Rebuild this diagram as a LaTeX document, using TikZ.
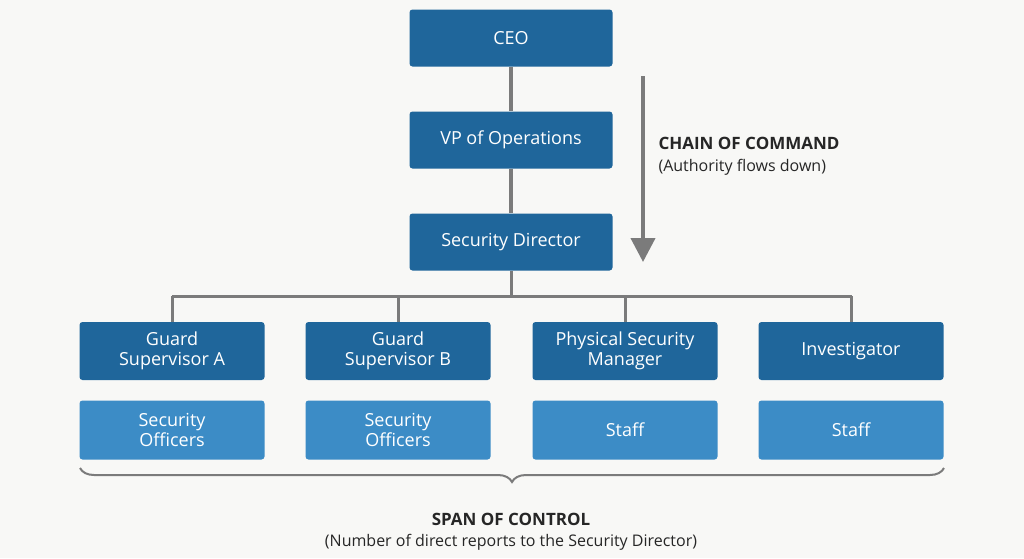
\documentclass[tikz,border=0pt]{standalone}
\usepackage{fontspec}
\setmainfont{Open Sans}
\usetikzlibrary{decorations.pathreplacing,arrows.meta}
\definecolor{dk}{HTML}{1F669B}
\definecolor{lt}{HTML}{3C8CC6}
\definecolor{ln}{HTML}{7B7B7B}
\definecolor{bg}{HTML}{F8F8F6}
\begin{document}
\begin{tikzpicture}[x=1pt,y=-1pt,
 box/.style={draw=none,fill=dk,rounded corners=3pt,text=white,minimum width=203pt,minimum height=57pt,align=center,font=\fontsize{18}{20}\selectfont},
 sub/.style={draw=none,fill=dk,rounded corners=3pt,text=white,minimum width=185pt,minimum height=58pt,align=center,font=\fontsize{18}{20}\selectfont},
 sub2/.style={sub,fill=lt,minimum height=59pt},
 con/.style={draw=ln,line width=3.5pt}]
\fill[bg] (0,0) rectangle (1024,558);
\useasboundingbox (0,0) rectangle (1024,558);
\node[box] (ceo) at (511,38) {CEO};
\node[box] (vp) at (511,140) {VP of Operations};
\node[box] (sd) at (511,242) {Security Director};
\draw[con] (ceo) -- (vp);
\draw[con] (vp) -- (sd);
\coordinate (j) at (511,296);
\coordinate (l) at (172,296);
\coordinate (r) at (852,296);
\draw[con,line width=3pt] (sd) -- (j);
\draw[con,line width=3pt] (l) -- (r);
\node[sub] (ga) at (172,351) {Guard\\Supervisor A};
\node[sub] (gb) at (398,351) {Guard\\Supervisor B};
\node[sub] (pm) at (625,351) {Physical Security\\Manager};
\node[sub] (inv) at (851,351) {Investigator};
\foreach \n/\x in {ga/172,gb/398,pm/625,inv/851}{
 \coordinate (t\n) at (\x,296);
 \draw[con,line width=3pt] (t\n) -- (\n);}
\node[sub2] (so1) at (172,430) {Security\\Officers};
\node[sub2] (so2) at (398,430) {Security\\Officers};
\node[sub2] (st1) at (625,430) {Staff};
\node[sub2] (st2) at (851,430) {Staff};
\coordinate (bl) at (80,468);
\coordinate (br) at (944,468);
\draw[ln,line width=2pt,decorate,decoration={brace,mirror,amplitude=14pt}] (bl) -- (br);
\node[font=\fontsize{17}{20}\selectfont\bfseries,text=black!85] (span) at (511,519) {SPAN OF CONTROL};
\node[font=\fontsize{16}{20}\selectfont,text=black!85] (spd) at (511,542) {(Number of direct reports to the Security Director)};
\coordinate (a1) at (643,76);
\coordinate (a2) at (643,262);
\draw[ln,line width=4pt,-{Triangle[length=24pt,width=24pt]}] (a1) -- (a2);
\node[anchor=west,font=\fontsize{17}{20}\selectfont\bfseries,text=black!85] (coc) at (655,143) {CHAIN OF COMMAND};
\node[anchor=west,font=\fontsize{16}{20}\selectfont,text=black!85] (af) at (655,167) {(Authority flows down)};
\end{tikzpicture}
\end{document}
